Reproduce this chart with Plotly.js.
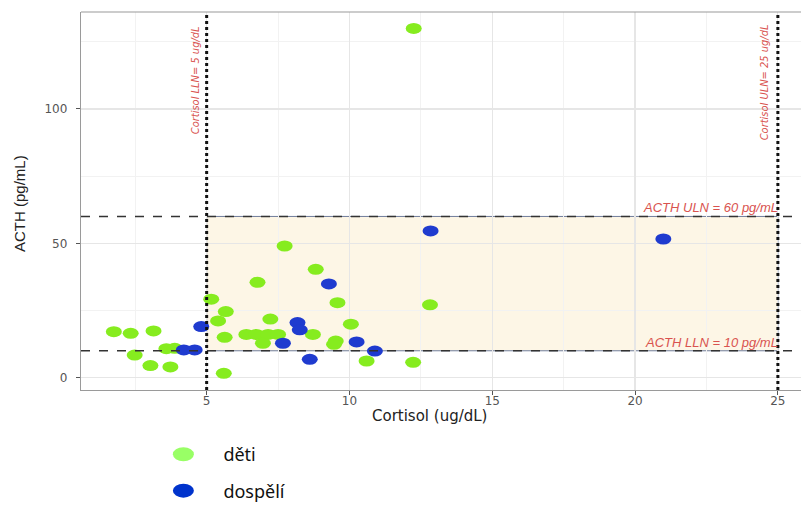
<!DOCTYPE html>
<html>
<head>
<meta charset="utf-8">
<script src="https://cdn.plot.ly/plotly-3.0.1.min.js"></script>
<style>html,body{margin:0;padding:0;background:#fff;}#chart{width:801px;height:526px;}</style>
</head>
<body>
<div id="chart"></div>
<script>
// Data
const detiCortisol = [1.75, 2.34, 3.14, 2.48, 3.03, 3.73, 3.59, 3.88, 5.16, 5.67, 5.40, 5.63, 5.60, 6.39, 6.74, 7.15, 7.50, 8.72, 6.78, 7.23, 6.97, 7.73, 8.82, 9.58, 9.52, 9.46, 10.05, 10.60, 12.23, 12.25, 12.82];
const detiACTH     = [17.1, 16.5, 17.4, 8.4, 4.5, 4.0, 10.8, 10.9, 29.2, 24.6, 21.1, 15.0, 1.6, 16.1, 16.1, 16.1, 16.1, 16.1, 35.5, 21.8, 12.8, 49.0, 40.3, 27.9, 13.6, 12.4, 19.9, 6.2, 5.7, 130.0, 27.1];
const dospeliCortisol = [4.81, 4.20, 4.58, 7.67, 8.18, 8.26, 9.28, 8.61, 10.25, 10.89, 12.84, 20.99];
const dospeliACTH     = [19.0, 10.3, 10.3, 12.8, 20.5, 17.8, 34.9, 6.8, 13.3, 9.9, 54.6, 51.6];
const seriesNames = ["děti", "dospělí"];
const cortisolLimits = [5, 25];    // LLN, ULN (ug/dL)
const acthLimits = [10, 60];       // LLN, ULN (pg/mL)
const cortisolLabels = ["Cortisol LLN= 5 ug/dL", "Cortisol ULN= 25 ug/dL"];
const acthLabels = ["ACTH LLN = 10 pg/mL", "ACTH ULN = 60 pg/mL"];
const xTitle = "Cortisol (ug/dL)";
const yTitle = "ACTH (pg/mL)";

const green = "#86EC1F", blue = "#1F3BCF";
const red = "#D9534F";

const traces = [
  {type: "scatter", mode: "markers", name: seriesNames[0], legendgroup: "a",
   x: detiCortisol, y: detiACTH, marker: {color: green, size: 12}},
  {type: "scatter", mode: "markers", name: seriesNames[1], legendgroup: "b",
   x: dospeliCortisol, y: dospeliACTH, marker: {color: blue, size: 12}}
];

const shapes = [
  {type: "rect", xref: "x", yref: "y", x0: cortisolLimits[0], x1: cortisolLimits[1], y0: acthLimits[0], y1: acthLimits[1],
   fillcolor: "#FDF6E6", line: {color: "#6F7C99", width: 1}, layer: "below"},
  {type: "line", xref: "paper", yref: "y", x0: 0, x1: 1, y0: acthLimits[0], y1: acthLimits[0], line: {color: "#333", width: 1.5, dash: "dash"}},
  {type: "line", xref: "paper", yref: "y", x0: 0, x1: 1, y0: acthLimits[1], y1: acthLimits[1], line: {color: "#333", width: 1.5, dash: "dash"}},
  {type: "line", xref: "x", yref: "paper", x0: cortisolLimits[0], x1: cortisolLimits[0], y0: 0, y1: 1, line: {color: "#111", width: 3, dash: "dot"}},
  {type: "line", xref: "x", yref: "paper", x0: cortisolLimits[1], x1: cortisolLimits[1], y0: 0, y1: 1, line: {color: "#111", width: 3, dash: "dot"}},
  {type: "line", xref: "paper", yref: "paper", x0: 0, x1: 1, y0: 1, y1: 1, line: {color: "#9a9a9a", width: 1.2}}
];

const annFont = {family: "Liberation Sans Narrow, DejaVu Sans Condensed, Liberation Sans", size: 11, color: red, style: "italic"};
const annotations = [
  {xref: "x", yref: "paper", x: cortisolLimits[0], y: 0.82, text: cortisolLabels[0], textangle: -90, showarrow: false,
   xanchor: "right", yanchor: "middle", xshift: -3, font: annFont},
  {xref: "x", yref: "paper", x: cortisolLimits[1], y: 0.815, text: cortisolLabels[1], textangle: -90, showarrow: false,
   xanchor: "right", yanchor: "middle", xshift: -4, font: annFont},
  {xref: "x", yref: "y", x: cortisolLimits[1], y: acthLimits[1], text: acthLabels[1], showarrow: false,
   xanchor: "right", yanchor: "bottom", xshift: 2, yshift: -1,
   font: {family: "Liberation Sans", size: 13, color: red, style: "italic"}},
  {xref: "x", yref: "y", x: cortisolLimits[1], y: acthLimits[0], text: acthLabels[0], showarrow: false,
   xanchor: "right", yanchor: "bottom", xshift: 2, yshift: -1,
   font: {family: "Liberation Sans", size: 13, color: red, style: "italic"}},
  // axis titles
  {xref: "paper", yref: "paper", x: 0.4847, y: -0.068, text: xTitle, showarrow: false,
   xanchor: "center", yanchor: "middle", font: {family: "DejaVu Sans", size: 15, color: "#222"}},
  {xref: "paper", yref: "paper", x: -0.0861, y: 0.492, text: yTitle, showarrow: false, textangle: -90,
   xanchor: "center", yanchor: "middle", font: {family: "Liberation Sans Narrow, Liberation Sans", size: 15, color: "#222"}}
];

const layout = {
  width: 801, height: 526,
  margin: {l: 81, r: 0, t: 12, b: 136, autoexpand: false},
  paper_bgcolor: "#fff", plot_bgcolor: "#fff",
  font: {family: "DejaVu Sans", color: "#4d4d4d"},
  xaxis: {
    range: [0.6, 25.81], tickvals: [5, 10, 15, 20, 25], ticks: "outside", ticklen: 4, tickcolor: "#555",
    showgrid: true, gridcolor: "#e6e6e6", gridwidth: 1.2, zeroline: false,
    minor: {tickvals: [2.5, 7.5, 12.5, 17.5, 22.5], showgrid: true, gridcolor: "#f2f2f2", gridwidth: 1, ticks: ""},
    showline: true, linecolor: "#9a9a9a", linewidth: 1.2,
    tickfont: {family: "DejaVu Sans", size: 12, color: "#555"},
    ticklabelstandoff: -5,
    automargin: false
  },
  yaxis: {
    range: [-4.6, 136.1], tickvals: [0, 50, 100], ticks: "outside", ticklen: 4, tickcolor: "#555",
    showgrid: true, gridcolor: "#e6e6e6", gridwidth: 1.2, zeroline: false,
    minor: {tickvals: [25, 75, 125], showgrid: true, gridcolor: "#f2f2f2", gridwidth: 1, ticks: ""},
    showline: true, linecolor: "#9a9a9a", linewidth: 1.2,
    tickfont: {family: "DejaVu Sans", size: 12, color: "#555"},
    ticklabelstandoff: 6,
    automargin: false
  },
  showlegend: true,
  legend: {xref: "container", yref: "container", x: 0.179, y: 0.171, xanchor: "left", yanchor: "top",
    font: {family: "Noto Sans", size: 18, color: "#111"}, tracegroupgap: 10, traceorder: "grouped",
    itemwidth: 70, bgcolor: "rgba(0,0,0,0)"},
  shapes: shapes,
  annotations: annotations
};

Plotly.newPlot("chart", traces, layout, {staticPlot: true}).then(function(gd) {
  // Reference markers are slightly flattened ellipses
  document.querySelectorAll(".scatterlayer path.point").forEach(function(p) {
    p.setAttribute("d", "M8,0A8,5.5 0 1,1 -8,0A8,5.5 0 1,1 8,0Z");
  });
  const legendFills = ["#99FF66", "#0033CC"];
  document.querySelectorAll(".legend .traces").forEach(function(t, i) {
    t.querySelectorAll("path.scatterpts").forEach(function(p) {
      p.setAttribute("d", "M10.5,0A10.5,7 0 1,1 -10.5,0A10.5,7 0 1,1 10.5,0Z");
      p.style.fill = legendFills[i];
      p.style.stroke = "none";
    });
  });
});
</script>
</body>
</html>
